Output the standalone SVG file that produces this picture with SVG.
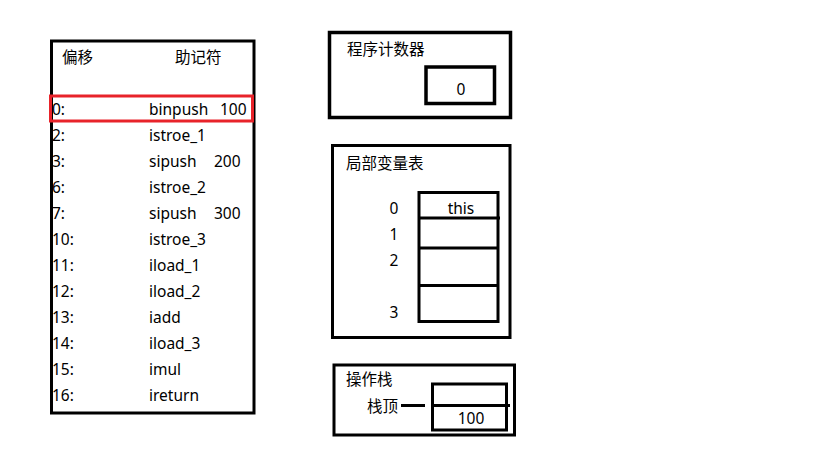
<svg xmlns="http://www.w3.org/2000/svg" width="819" height="460" viewBox="0 0 819 460">
<style>
text{font-family:"Noto Sans","Noto Sans CJK SC",sans-serif;font-size:15.5px;fill:#000}
.box{fill:none;stroke:#000;stroke-width:3}
.red{fill:none;stroke:#e8232a;stroke-width:3}
.c{text-anchor:middle}
</style>
<rect width="819" height="460" fill="#fff"/>
<g id="bytecode">
<rect class="box" x="51.5" y="41" width="202.5" height="372"/>
<text x="62" y="63">偏移</text>
<text x="175" y="63">助记符</text>
<rect class="red" x="50.5" y="96" width="202" height="25"/>
<text x="52" y="115">0:</text><text x="149" y="115">binpush</text><text x="220" y="115">100</text>
<text x="52" y="141">2:</text><text x="149" y="141">istroe_1</text>
<text x="52" y="167">3:</text><text x="149" y="167">sipush</text><text x="214" y="167">200</text>
<text x="52" y="193">6:</text><text x="149" y="193">istroe_2</text>
<text x="52" y="219">7:</text><text x="149" y="219">sipush</text><text x="214" y="219">300</text>
<text x="52" y="245">10:</text><text x="149" y="245">istroe_3</text>
<text x="52" y="271">11:</text><text x="149" y="271">iload_1</text>
<text x="52" y="297">12:</text><text x="149" y="297">iload_2</text>
<text x="52" y="323">13:</text><text x="149" y="323">iadd</text>
<text x="52" y="349">14:</text><text x="149" y="349">iload_3</text>
<text x="52" y="375">15:</text><text x="149" y="375">imul</text>
<text x="52" y="401">16:</text><text x="149" y="401">ireturn</text>
</g>
<g id="pc">
<rect class="box" x="329.5" y="32.5" width="181" height="85" style="stroke-width:3.5"/>
<text x="347" y="55">程序计数器</text>
<rect class="box" x="426" y="67" width="68.5" height="36.5" style="stroke-width:3.5"/>
<text class="c" x="461" y="95">0</text>
</g>
<g id="locals">
<rect class="box" x="332.5" y="145.5" width="177.5" height="192"/>
<text x="346" y="169">局部变量表</text>
<rect class="box" x="419" y="192.5" width="79" height="129"/>
<line x1="419" y1="218" x2="500" y2="218" stroke="#000" stroke-width="3"/>
<line x1="419" y1="248" x2="498" y2="248" stroke="#000" stroke-width="3"/>
<line x1="419" y1="285.5" x2="498" y2="285.5" stroke="#000" stroke-width="3"/>
<text class="c" x="394" y="214">0</text>
<text class="c" x="394" y="240">1</text>
<text class="c" x="394" y="266">2</text>
<text class="c" x="394" y="318">3</text>
<text class="c" x="461" y="214">this</text>
</g>
<g id="stack">
<rect class="box" x="334" y="365" width="180.5" height="70"/>
<text x="346" y="385">操作栈</text>
<rect class="box" x="432.5" y="384" width="74" height="46"/>
<line x1="432.5" y1="405.5" x2="510" y2="405.5" stroke="#000" stroke-width="3"/>
<text class="c" x="471" y="424">100</text>
<text x="367" y="412">栈顶</text>
</g>
<g id="connectors">
<line x1="401" y1="405.5" x2="425" y2="405.5" stroke="#000" stroke-width="3"/>
</g>
</svg>
